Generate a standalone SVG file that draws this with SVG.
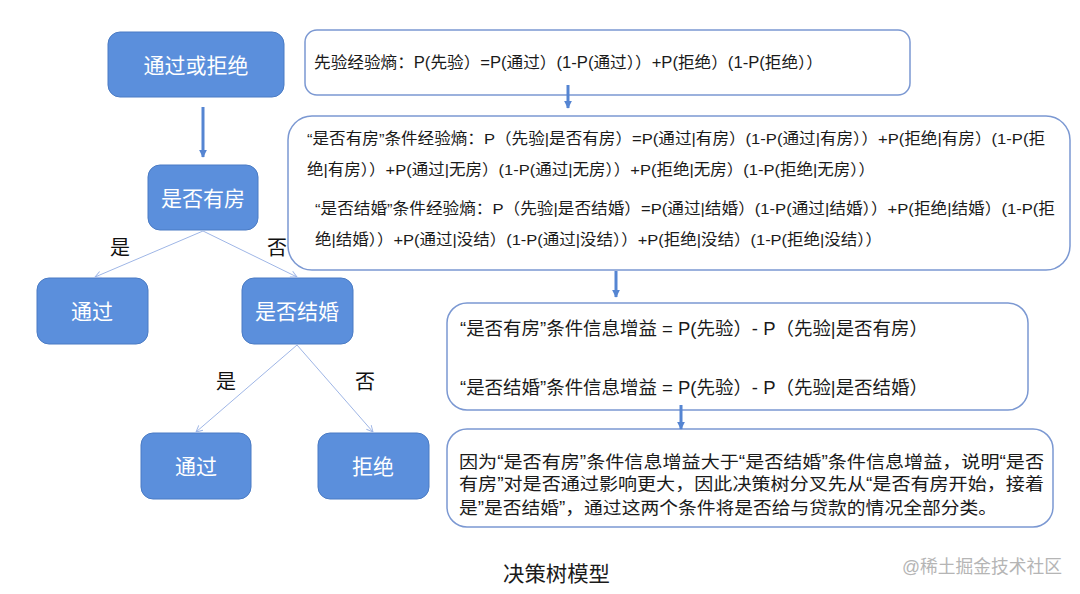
<svg xmlns="http://www.w3.org/2000/svg" width="1080" height="594" viewBox="0 0 1080 594">
<style>
.node{fill:#5b8fdc;stroke:#4a7bc4;stroke-width:1}
.nt{font-family:"Liberation Sans","Noto Sans CJK SC",sans-serif;font-size:21px;fill:#ffffff;text-anchor:middle}
.box{fill:#ffffff;stroke:#7b98d2;stroke-width:1.5}
.t{font-family:"Liberation Sans","Noto Sans CJK SC",sans-serif;fill:#1a1a1a}
.lbl{font-family:"Liberation Sans","Noto Sans CJK SC",sans-serif;font-size:20px;fill:#111;text-anchor:middle}
.thin{stroke:#9fb6e6;stroke-width:1;fill:none;marker-end:url(#open)}
.thick{stroke:#5585d2;stroke-width:3;fill:none;marker-end:url(#tri)}
</style>
<defs>
<marker id="open" viewBox="0 0 10 10" refX="9" refY="5" markerWidth="8" markerHeight="8" markerUnits="userSpaceOnUse" orient="auto">
<path d="M1,1 L9,5 L1,9" fill="none" stroke="#9fb6e6" stroke-width="1.2"/>
</marker>
<marker id="tri" viewBox="0 0 10 10" refX="9" refY="5" markerWidth="8" markerHeight="8" markerUnits="userSpaceOnUse" orient="auto">
<path d="M0,0 L10,5 L0,10 Z" fill="#5585d2"/>
</marker>
</defs>
<rect width="1080" height="594" fill="#ffffff"/>

<g id="n-root"><rect class="node" x="108" y="32" width="176" height="65" rx="12"/><text class="nt" x="196" y="73">通过或拒绝</text></g>
<g id="n-house"><rect class="node" x="148" y="165" width="110" height="65" rx="12"/><text class="nt" x="203" y="206">是否有房</text></g>
<g id="n-pass1"><rect class="node" x="37" y="278" width="111" height="66" rx="12"/><text class="nt" x="92" y="319">通过</text></g>
<g id="n-marry"><rect class="node" x="242" y="278" width="111" height="66" rx="12"/><text class="nt" x="297" y="319">是否结婚</text></g>
<g id="n-pass2"><rect class="node" x="141" y="433" width="110" height="66" rx="12"/><text class="nt" x="196" y="474">通过</text></g>
<g id="n-reject"><rect class="node" x="318" y="433" width="111" height="66" rx="12"/><text class="nt" x="373" y="474">拒绝</text></g>

<g id="box-prior">
<rect class="box" x="305" y="30" width="605" height="65" rx="12"/>
<text class="t" font-size="16" x="314" y="68" textLength="509" lengthAdjust="spacingAndGlyphs">先验经验熵：P(先验）=P(通过）(1-P(通过））+P(拒绝）(1-P(拒绝））</text>
</g>

<g id="box-cond">
<rect class="box" x="288" y="116" width="782" height="154" rx="24"/>
<text class="t" font-size="15.5" x="307" y="144" textLength="738" lengthAdjust="spacingAndGlyphs">“是否有房”条件经验熵：P（先验|是否有房）=P(通过|有房）(1-P(通过|有房））+P(拒绝|有房）(1-P(拒</text>
<text class="t" font-size="15.5" x="307" y="175" textLength="568" lengthAdjust="spacingAndGlyphs">绝|有房））+P(通过|无房）(1-P(通过|无房））+P(拒绝|无房）(1-P(拒绝|无房））</text>
<text class="t" font-size="15.5" x="315" y="214" textLength="740" lengthAdjust="spacingAndGlyphs">“是否结婚”条件经验熵：P（先验|是否结婚）=P(通过|结婚）(1-P(通过|结婚））+P(拒绝|结婚）(1-P(拒</text>
<text class="t" font-size="15.5" x="315" y="245" textLength="567" lengthAdjust="spacingAndGlyphs">绝|结婚））+P(通过|没结）(1-P(通过|没结））+P(拒绝|没结）(1-P(拒绝|没结））</text>
</g>

<g id="box-gain">
<rect class="box" x="447" y="303" width="581" height="107" rx="20"/>
<text class="t" font-size="18" x="460" y="335" textLength="468" lengthAdjust="spacingAndGlyphs">“是否有房”条件信息增益 = P(先验）- P（先验|是否有房）</text>
<text class="t" font-size="18" x="460" y="394" textLength="468" lengthAdjust="spacingAndGlyphs">“是否结婚”条件信息增益 = P(先验）- P（先验|是否结婚）</text>
</g>

<g id="box-conclusion">
<rect class="box" x="447" y="429" width="606" height="98" rx="20"/>
<text class="t" font-size="17.5" x="459" y="468" textLength="585" lengthAdjust="spacingAndGlyphs">因为“是否有房”条件信息增益大于“是否结婚”条件信息增益，说明“是否</text>
<text class="t" font-size="17.5" x="459" y="490" textLength="585" lengthAdjust="spacingAndGlyphs">有房”对是否通过影响更大，因此决策树分叉先从“是否有房开始，接着</text>
<text class="t" font-size="17.5" x="459" y="514" textLength="538" lengthAdjust="spacingAndGlyphs">是”是否结婚”，通过这两个条件将是否给与贷款的情况全部分类。</text>
</g>

<g id="connectors">
<line class="thick" x1="203" y1="107" x2="203" y2="157"/>
<line class="thin" x1="203" y1="231" x2="95" y2="277"/>
<line class="thin" x1="203" y1="231" x2="297" y2="277"/>
<line class="thin" x1="297" y1="345" x2="196" y2="432"/>
<line class="thin" x1="297" y1="345" x2="373" y2="432"/>
<line class="thick" x1="568" y1="85" x2="568" y2="108"/>
<line class="thick" x1="616" y1="271" x2="616" y2="297"/>
<line class="thick" x1="681" y1="405" x2="681" y2="429"/>
<text class="lbl" x="120" y="255">是</text>
<text class="lbl" x="277" y="255">否</text>
<text class="lbl" x="226" y="389">是</text>
<text class="lbl" x="365" y="389">否</text>
</g>

<text class="t" font-size="21" x="503" y="581" textLength="107" lengthAdjust="spacingAndGlyphs">决策树模型</text>
<text font-family="Liberation Sans,Noto Sans CJK SC,sans-serif" font-size="18" fill="#b5b5b5" x="902" y="573" textLength="160" lengthAdjust="spacingAndGlyphs">@稀土掘金技术社区</text>
</svg>
